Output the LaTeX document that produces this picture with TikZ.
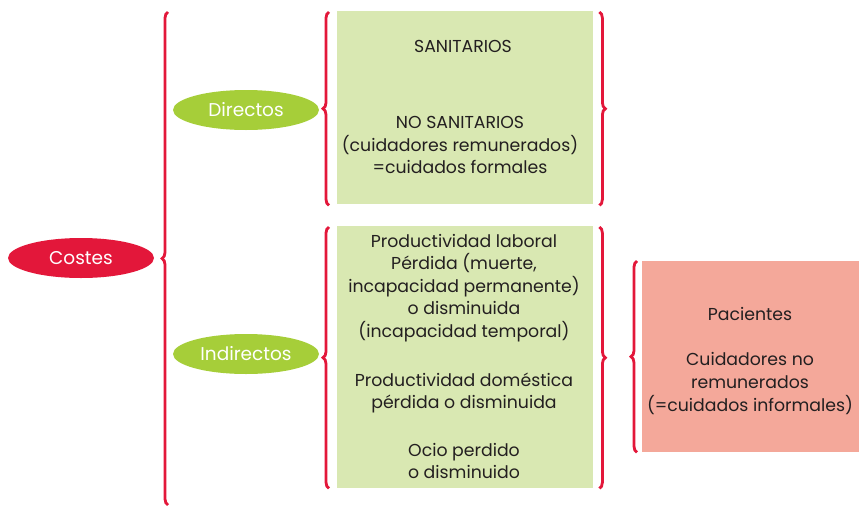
\documentclass[tikz,border=0pt]{standalone}
\usepackage{fontspec}
\setmainfont{Poppins}
\usetikzlibrary{shapes.geometric,decorations.pathreplacing}
\definecolor{cred}{HTML}{E3173A}
\definecolor{cgreen}{HTML}{A6CE39}
\definecolor{lgreen}{HTML}{D9E8B2}
\definecolor{cpink}{HTML}{F4A89A}
\definecolor{ctext}{HTML}{231F20}
\begin{document}
\begin{tikzpicture}[x=1pt,y=-1pt,
  oval/.style={ellipse,minimum width=146pt,minimum height=40pt,inner sep=0pt,text=white,font=\fontsize{18.5}{20}\selectfont},
  panel/.style={draw=none,anchor=north west,inner sep=0pt},
  txt/.style={align=center,text=ctext,font=\fontsize{17.3}{22.6}\selectfont,inner sep=0pt},
  brc/.style={draw=cred,line width=2.8pt,decorate,decoration={brace,amplitude=6pt,aspect=0.5}},
  brcr/.style={draw=cred,line width=2.8pt,decorate,decoration={brace,amplitude=6pt,aspect=0.5,mirror}}]
\useasboundingbox (0,0) rectangle (859,506);
% nodes
\node[oval,fill=cred] (costes) at (81,258) {Costes};
\node[oval,fill=cgreen] (dir) at (246,110) {Directos};
\node[oval,fill=cgreen] (ind) at (246,354) {Indirectos};
\node[panel,fill=lgreen,minimum width=256pt,minimum height=193pt] (box1) at (337,11) {};
\node[panel,fill=lgreen,minimum width=256pt,minimum height=262pt] (box2) at (337,226) {};
\node[panel,fill=cpink,minimum width=217pt,minimum height=191pt] (box3) at (642,261) {};
% texts
\node[txt] (san) at (463,46) {SANITARIOS};
\node[txt] (nosan) at (460,145) {NO SANITARIOS\\(cuidadores remunerados)\\=cuidados formales};
\node[txt] (lab) at (464,288) {Productividad laboral\\Pérdida (muerte,\\incapacidad permanente)\\o disminuida\\(incapacidad temporal)};
\node[txt] (dom) at (464,393) {Productividad doméstica\\pérdida o disminuida};
\node[txt] (ocio) at (464,461) {Ocio perdido\\o disminuido};
\node[txt] (pac) at (750,361) {Pacientes\\[22.6pt]Cuidadores no\\remunerados\\(=cuidados informales)};
% braces
\coordinate (b0t) at (168,12);
\coordinate (b0b) at (168,505);
\draw[brc] (b0b) -- (b0t);
\draw[brc] ([xshift=-8pt,yshift=-1pt]box1.south west) -- ([xshift=-8pt,yshift=-1pt]box1.north west);
\draw[brcr] ([xshift=6pt,yshift=-1pt]box1.south east) -- ([xshift=6pt,yshift=-1pt]box1.north east);
\draw[brc] ([xshift=-8pt]box2.south west) -- ([xshift=-8pt,yshift=-1pt]box2.north west);
\draw[brcr] ([xshift=6pt]box2.south east) -- ([xshift=6pt,yshift=-1pt]box2.north east);
\draw[brc] ([xshift=-5pt]box3.south west) -- ([xshift=-5pt]box3.north west);
\end{tikzpicture}
\end{document}
